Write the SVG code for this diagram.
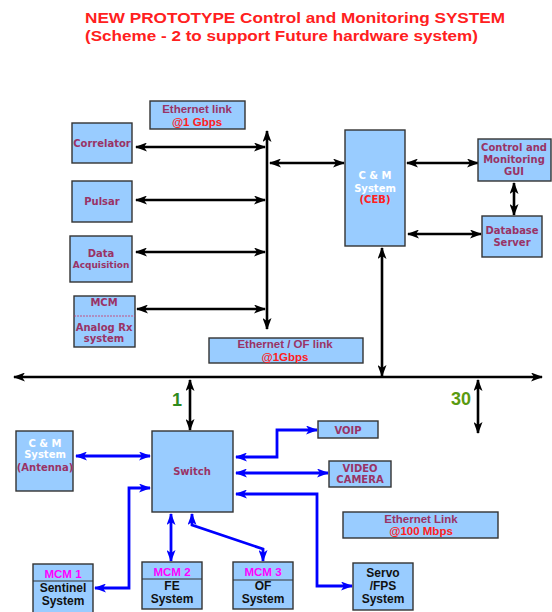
<svg xmlns="http://www.w3.org/2000/svg" width="552" height="612" viewBox="0 0 552 612">
<style>
.box{fill:#99ccff;stroke:#333;stroke-width:1.4}
.t{font-family:"Liberation Sans",Arial,sans-serif;font-weight:bold;text-anchor:middle}
.d{font-family:"DejaVu Sans",Verdana,sans-serif;font-weight:bold;text-anchor:middle;font-size:10px}
.p{fill:#993366}
.r{fill:#ff2020}
.w{fill:#ffffff}
.m{fill:#ff00ff}
.k{fill:#111}
.bl{fill:none;stroke:#000;stroke-width:2.6}
.bu{fill:none;stroke:#0000ff;stroke-width:2.8}
</style>
<defs>
<marker id="ak" viewBox="0 0 12 9" refX="11" refY="4.5" markerWidth="12" markerHeight="9" markerUnits="userSpaceOnUse" orient="auto-start-reverse"><path d="M0,0 L12,4.5 L0,9 L3,4.5 z" fill="#000"/></marker>
<marker id="ab" viewBox="0 0 12 9" refX="11" refY="4.5" markerWidth="12" markerHeight="9" markerUnits="userSpaceOnUse" orient="auto-start-reverse"><path d="M0,0 L12,4.5 L0,9 L3,4.5 z" fill="#0000ff"/></marker>
</defs>
<g id="title" xml:space="preserve">
<text x="85" y="23" class="t r" style="text-anchor:start" font-size="15.5" textLength="420" lengthAdjust="spacingAndGlyphs">NEW PROTOTYPE Control and Monitoring  SYSTEM</text>
<text x="85" y="41" class="t r" style="text-anchor:start" font-size="15.5" textLength="393" lengthAdjust="spacingAndGlyphs">(Scheme - 2 to support Future  hardware system)</text>
</g>
<g id="connectors">
<path class="bl" d="M267,329 V131" marker-start="url(#ak)" marker-end="url(#ak)"/>
<path class="bl" d="M136,147 H265" marker-start="url(#ak)" marker-end="url(#ak)"/>
<path class="bl" d="M136,200 H265" marker-start="url(#ak)" marker-end="url(#ak)"/>
<path class="bl" d="M136,252 H265" marker-start="url(#ak)" marker-end="url(#ak)"/>
<path class="bl" d="M137,309 H265" marker-start="url(#ak)" marker-end="url(#ak)"/>
<path class="bl" d="M270,163 H344" marker-start="url(#ak)" marker-end="url(#ak)"/>
<path class="bl" d="M407,163 H478" marker-start="url(#ak)" marker-end="url(#ak)"/>
<path class="bl" d="M514,183 V215" marker-start="url(#ak)" marker-end="url(#ak)"/>
<path class="bl" d="M408,234 H481" marker-start="url(#ak)" marker-end="url(#ak)"/>
<path class="bl" d="M382,248 V376" marker-start="url(#ak)" marker-end="url(#ak)"/>
<path class="bl" d="M14,377 H542" marker-start="url(#ak)" marker-end="url(#ak)"/>
<path class="bl" d="M190,380 V430" marker-start="url(#ak)" marker-end="url(#ak)"/>
<path class="bl" d="M478,380 V433" marker-start="url(#ak)" marker-end="url(#ak)"/>
<path class="bu" d="M76,456 H150" marker-start="url(#ab)" marker-end="url(#ab)"/>
<path class="bu" d="M236,457 H277 V430 H317" marker-start="url(#ab)" marker-end="url(#ab)"/>
<path class="bu" d="M236,473 H328" marker-start="url(#ab)" marker-end="url(#ab)"/>
<path class="bu" d="M236,494 H317 V586 H352" marker-start="url(#ab)" marker-end="url(#ab)"/>
<path class="bu" d="M150,488 H129 V588 H95" marker-start="url(#ab)" marker-end="url(#ab)"/>
<path class="bu" d="M171,514 V561" marker-start="url(#ab)" marker-end="url(#ab)"/>
<path class="bu" d="M192,514 V525 L263,549 V561" marker-start="url(#ab)" marker-end="url(#ab)"/>
</g>
<g id="eth1g"><rect class="box" x="150" y="101" width="95" height="28"/><text x="197" y="113" class="t p" font-size="11.5">Ethernet link</text><text x="197" y="126" class="t r" font-size="11.5">@1 Gbps</text></g>
<g id="correlator"><rect class="box" x="72" y="123" width="60" height="40"/><text x="102" y="147" class="d p">Correlator</text></g>
<g id="pulsar"><rect class="box" x="72" y="181" width="60" height="41"/><text x="102" y="205" class="d p">Pulsar</text></g>
<g id="dataacq"><rect class="box" x="70" y="236" width="62" height="46"/><text x="101" y="257" class="d p">Data</text><text x="101" y="268" class="d p" style="font-size:9px">Acquisition</text></g>
<g id="mcmrx"><rect class="box" x="74" y="296" width="61" height="51"/><text x="104" y="306" class="d p">MCM</text><line x1="74" y1="316" x2="135" y2="316" stroke="#cc3366" stroke-width="0.8" stroke-dasharray="2,1"/><text x="104" y="331" class="d p">Analog Rx</text><text x="104" y="342" class="d p">system</text></g>
<g id="ceb"><rect class="box" x="345" y="130" width="60" height="116"/><text x="375" y="179" class="d w">C &amp; M</text><text x="375" y="192" class="d w">System</text><text x="375" y="203" class="d r">(CEB)</text></g>
<g id="gui"><rect class="box" x="478" y="139" width="73" height="42"/><text x="514" y="151" class="d p">Control and</text><text x="514" y="163" class="d p">Monitoring</text><text x="514" y="175" class="d p">GUI</text></g>
<g id="db"><rect class="box" x="482" y="216" width="60" height="41"/><text x="512" y="234" class="d p">Database</text><text x="512" y="246" class="d p">Server</text></g>
<g id="ethof"><rect class="box" x="209" y="338" width="154" height="25"/><text x="285" y="348" class="t p" font-size="11.5">Ethernet / OF link</text><text x="285" y="361" class="t r" font-size="11.5">@1Gbps</text></g>
<g id="lbl1"><text x="177" y="406" class="t" fill="#2e8b1e" font-size="18">1</text></g>
<g id="lbl30"><text x="461" y="405" class="t" fill="#5a9a10" font-size="18">30</text></g>
<g id="antenna"><rect class="box" x="16" y="431" width="57" height="60"/><text x="45" y="447" class="d w">C &amp; M</text><text x="45" y="458" class="d w">System</text><text x="45" y="471" class="d p">(Antenna)</text></g>
<g id="switch"><rect class="box" x="152" y="431" width="81" height="81"/><text x="192" y="475" class="d p">Switch</text></g>
<g id="voip"><rect class="box" x="318" y="421" width="60" height="17"/><text x="348" y="434" class="d p">VOIP</text></g>
<g id="video"><rect class="box" x="329" y="461" width="62" height="26"/><text x="360" y="472" class="d p">VIDEO</text><text x="360" y="483" class="d p">CAMERA</text></g>
<g id="eth100"><rect class="box" x="343" y="512" width="155" height="26"/><text x="421" y="523" class="t p" font-size="11.5">Ethernet Link</text><text x="421" y="535" class="t r" font-size="11.5">@100 Mbps</text></g>
<g id="servo"><rect class="box" x="353" y="563" width="60" height="47"/><text x="383" y="577" class="t k" font-size="12">Servo</text><text x="383" y="590" class="t k" font-size="12">/FPS</text><text x="383" y="603" class="t k" font-size="12">System</text></g>
<g id="mcm1"><rect class="box" x="33" y="564" width="60" height="49"/><line x1="33" y1="581" x2="93" y2="581" stroke="#333" stroke-width="1"/><text x="63" y="578" class="t m" font-size="11.5">MCM 1</text><text x="63" y="592" class="t k" font-size="12">Sentinel</text><text x="63" y="605" class="t k" font-size="12">System</text></g>
<g id="mcm2"><rect class="box" x="142" y="562" width="60" height="47"/><line x1="142" y1="579" x2="202" y2="579" stroke="#333" stroke-width="1"/><text x="172" y="576" class="t m" font-size="11.5">MCM 2</text><text x="172" y="590" class="t k" font-size="12">FE</text><text x="172" y="603" class="t k" font-size="12">System</text></g>
<g id="mcm3"><rect class="box" x="233" y="562" width="60" height="47"/><line x1="233" y1="580" x2="293" y2="580" stroke="#333" stroke-width="1"/><text x="263" y="576" class="t m" font-size="11.5">MCM 3</text><text x="263" y="590" class="t k" font-size="12">OF</text><text x="263" y="603" class="t k" font-size="12">System</text></g>
</svg>
